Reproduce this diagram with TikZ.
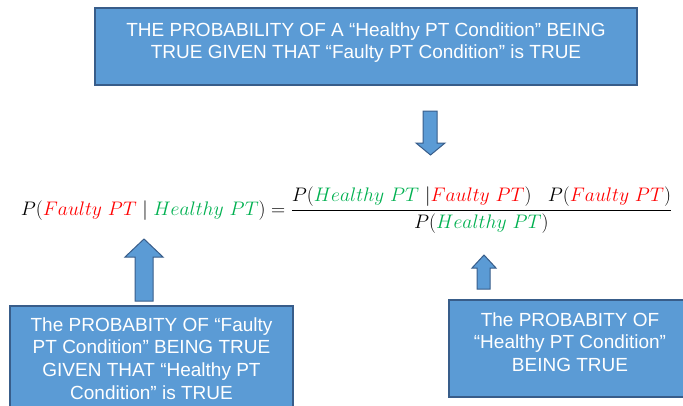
\documentclass[tikz,border=0pt]{standalone}
\usepackage{amsmath}
\usepackage{fontspec}
\newfontfamily\boxfont{Liberation Sans}
\usepackage{tikz}

\definecolor{boxblue}{HTML}{5B9BD5}
\definecolor{boxline}{HTML}{385D8A}
\definecolor{faultyred}{HTML}{FF0000}
\definecolor{healthygreen}{HTML}{00B050}

\newcommand{\faulty}{\textcolor{faultyred}{Faulty\ PT}}
\newcommand{\healthy}{\textcolor{healthygreen}{Healthy\ PT}}

\begin{document}
\begin{tikzpicture}[x=1pt, y=-1pt,
    infobox/.style={draw=boxline, fill=boxblue, line width=1.2pt, inner sep=0pt},
    boxtext/.style={text=white, font=\boxfont\fontsize{19}{22.6}\selectfont, align=center, inner sep=0pt},
    blockarrow/.style={draw=boxline, fill=boxblue, line width=1pt, line join=miter}]
    \useasboundingbox (0,0) rectangle (683,405);

    % boxes
    \node[infobox, minimum width=542, minimum height=77] at (366,46.5) (healthyGivenFaulty) {};
    \node[infobox, minimum width=283, minimum height=124] at (151.5,368) (faultyGivenHealthy) {};
    \node[infobox, minimum width=242, minimum height=97] at (570,348.5) (healthyPrior) {};

    % box texts
    \node[boxtext, anchor=north] at ([yshift=-15pt]healthyGivenFaulty.north) (healthyGivenFaultyText)
        {THE PROBABILITY OF A “Healthy PT Condition” BEING\\TRUE GIVEN THAT “Faulty PT Condition” is TRUE};
    \node[boxtext, anchor=north] at ([yshift=-12pt]faultyGivenHealthy.north) (faultyGivenHealthyText)
        {The PROBABITY OF “Faulty\\PT Condition” BEING TRUE\\GIVEN THAT “Healthy PT\\Condition” is TRUE};
    \node[boxtext, anchor=north] at ([yshift=-13pt]healthyPrior.north) (healthyPriorText)
        {The PROBABITY OF\\“Healthy PT Condition”\\BEING TRUE};

    % Bayes formula
    \node[anchor=base, inner sep=0pt, font=\fontsize{20.74}{25}\selectfont] at (346.5,215) (bayes)
        {\scalebox{0.945}{$\displaystyle P(\faulty \mid \healthy) = \frac{P(\healthy\ |\faulty)\;\;\; P(\faulty)}{P(\healthy)}$}};

    % block arrows
    \draw[blockarrow] (423,111) -- (437,111) -- (437,143) -- (445,143) -- (430.5,155)
        -- (416,143) -- (423,143) -- cycle;
    \draw[blockarrow] (135,301) -- (153,301) -- (153,257) -- (163,257) -- (144,239)
        -- (125,257) -- (135,257) -- cycle;
    \draw[blockarrow] (477,289) -- (490,289) -- (490,268) -- (496,268) -- (484,255)
        -- (472,268) -- (477,268) -- cycle;
\end{tikzpicture}
\end{document}
